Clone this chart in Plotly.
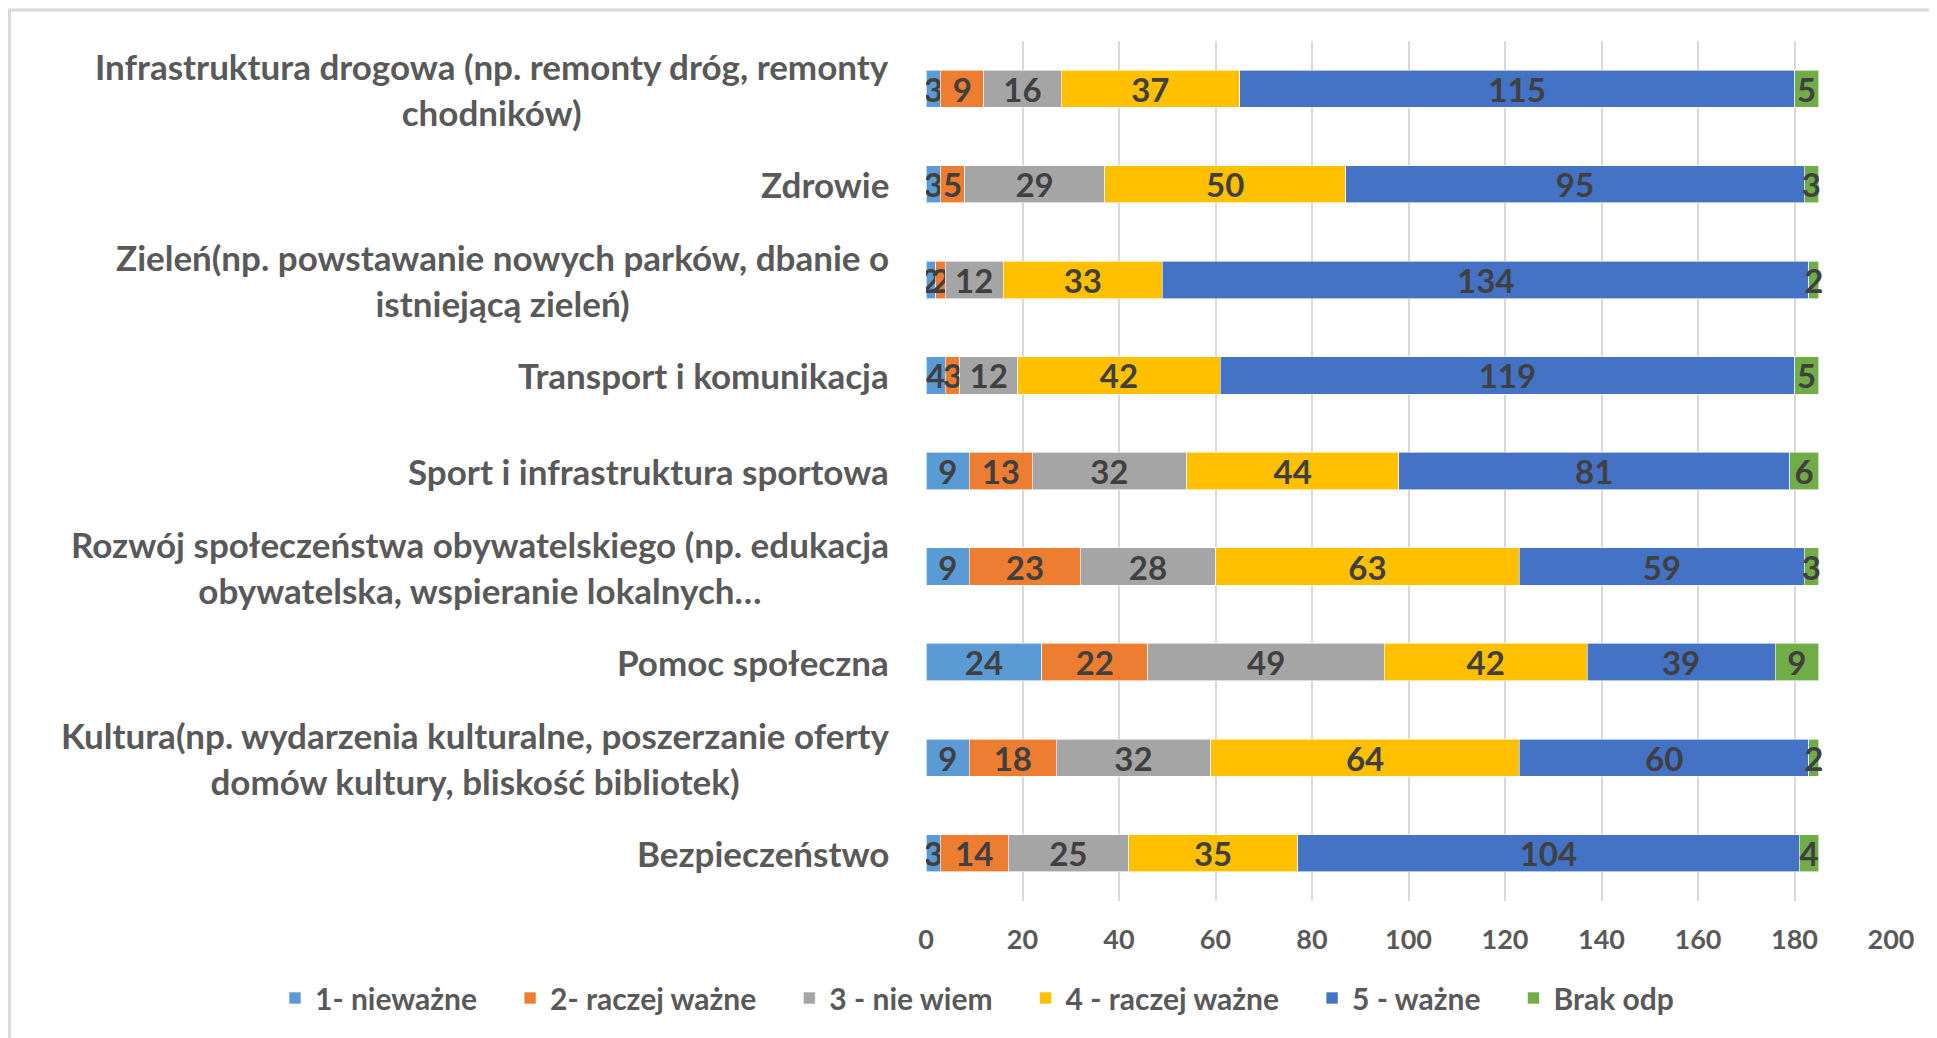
import plotly.graph_objects as go

categories = [
    "Infrastruktura drogowa (np. remonty dróg, remonty<br>chodników)",
    "Zdrowie",
    "Zieleń(np. powstawanie nowych parków, dbanie o<br>istniejącą zieleń)",
    "Transport i komunikacja",
    "Sport i infrastruktura sportowa",
    "Rozwój społeczeństwa obywatelskiego (np. edukacja<br>obywatelska, wspieranie lokalnych…",
    "Pomoc społeczna",
    "Kultura(np. wydarzenia kulturalne, poszerzanie oferty<br>domów kultury, bliskość bibliotek)",
    "Bezpieczeństwo",
]
series_names = ["1- nieważne", "2- raczej ważne", "3 - nie wiem", "4 - raczej ważne", "5 - ważne", "Brak odp"]
v1 = [3, 3, 2, 4, 9, 9, 24, 9, 3]
v2 = [9, 5, 2, 3, 13, 23, 22, 18, 14]
v3 = [16, 29, 12, 12, 32, 28, 49, 32, 25]
v4 = [37, 50, 33, 42, 44, 63, 42, 64, 35]
v5 = [115, 95, 134, 119, 81, 59, 39, 60, 104]
v6 = [5, 3, 2, 5, 6, 3, 9, 2, 4]
x_ticks = [0, 20, 40, 60, 80, 100, 120, 140, 160, 180, 200]

colors = ["#5B9BD5", "#ED7D31", "#A5A5A5", "#FFC000", "#4472C4", "#70AD47"]
values = [v1, v2, v3, v4, v5, v6]

# page has an 8px body margin; figure drawn at (8, 8)
W, H = 1929, 1030
L, T = 918, 33
pw, ph = 965, 860
R, B = W - L - pw, H - T - ph

FONT = "Lato"
TXT = "#595959"
LBL = 35
IND = 28

fig = go.Figure()
for name, vals, c in zip(series_names, values, colors):
    fig.add_trace(go.Bar(
        y=categories, x=vals, name=name, orientation="h",
        marker=dict(color=c, line=dict(color="white", width=0.6)),
        text=[str(v) for v in vals], textposition="inside", textangle=0,
        insidetextanchor="middle", constraintext="none",
        textfont=dict(family=FONT, size=33, color="#404040", weight="bold"),
    ))

for cat in categories:
    fig.add_annotation(
        x=0, xref="paper", y=cat, yref="y", xanchor="right", yanchor="middle",
        xshift=-35, text=cat, showarrow=False, align="center",
        font=dict(family=FONT, size=LBL, color=TXT, weight="bold"))

fig.add_shape(type="rect", xref="paper", yref="paper",
              x0=(1.5 - L) / pw, x1=1.3, y0=-0.5, y1=(H - B - 2) / ph,
              line=dict(color="#D9D9D9", width=3), fillcolor="rgba(0,0,0,0)", layer="below")

fig.update_layout(
    width=W, height=H, barmode="stack", bargap=0.61,
    margin=dict(l=L, r=R, t=T, b=B, pad=0, autoexpand=False),
    plot_bgcolor="white", paper_bgcolor="white",
    uniformtext=dict(minsize=33, mode="show"),
    font=dict(family=FONT, color=TXT),
    xaxis=dict(range=[0, 200], tickvals=x_ticks, showgrid=True, gridcolor="#D9D9D9",
               gridwidth=2, zeroline=False, showline=False,
               tickfont=dict(family=FONT, size=27, color=TXT, weight="bold"),
               ticklabelstandoff=20),
    yaxis=dict(autorange="reversed", showticklabels=False, showgrid=False,
               zeroline=False, showline=False),
    legend=dict(orientation="h", x=(239 - L) / pw, xanchor="left",
                y=(H - B - 990) / ph, yanchor="middle",
                font=dict(family=FONT, size=30, color=TXT, weight="bold"),
                traceorder="normal", itemwidth=30, indentation=IND),
    showlegend=True,
)

fig.write_html("out.html")
